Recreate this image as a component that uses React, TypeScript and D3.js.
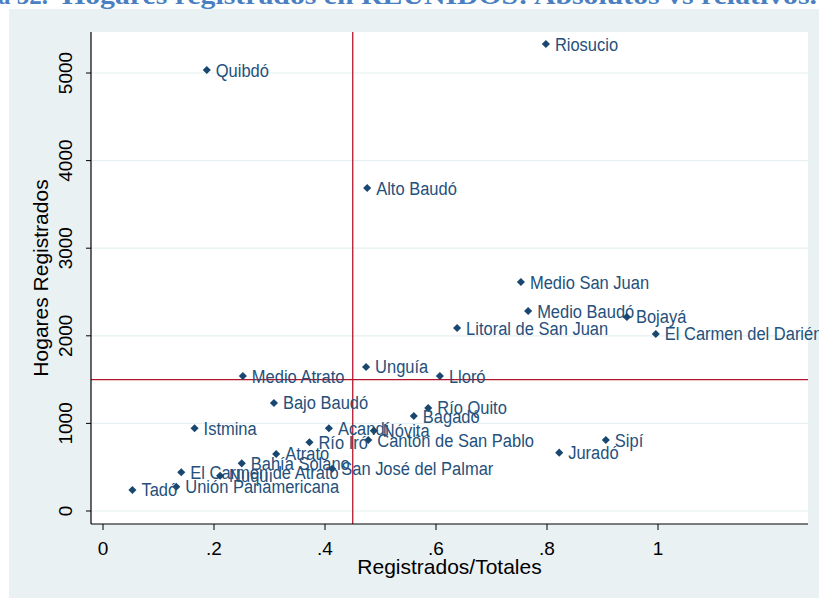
import React from 'react';
import * as d3 from 'd3';

// municipios del Chocó: ratio registrados/totales vs hogares registrados
const municipios = [
  'Riosucio', 'Quibdó', 'Alto Baudó', 'Medio San Juan', 'Medio Baudó', 'Bojayá',
  'Litoral de San Juan', 'El Carmen del Darién', 'Unguía', 'Medio Atrato', 'Lloró',
  'Bajo Baudó', 'Río Quito', 'Bagadó', 'Istmina', 'Acandí', 'Nóvita',
  'Cantón de San Pablo', 'Río Iró', 'Sipí', 'Juradó', 'Atrato', 'Bahía Solano',
  'San José del Palmar', 'El Carmen de Atrato', 'Nuquí', 'Unión Panamericana', 'Tadó',
];
const relativos = [
  0.798, 0.187, 0.476, 0.753, 0.766, 0.944, 0.638, 0.996, 0.474, 0.252, 0.607,
  0.308, 0.586, 0.560, 0.165, 0.407, 0.488, 0.478, 0.372, 0.906, 0.822, 0.312,
  0.250, 0.413, 0.141, 0.211, 0.132, 0.053,
];
const absolutos = [
  5331, 5034, 3687, 2614, 2283, 2215, 2089, 2021, 1644, 1541, 1541,
  1233, 1176, 1084, 944, 944, 917, 810, 785, 810, 666, 651,
  544, 483, 442, 403, 277, 240,
];
const xTicks = [0, 0.2, 0.4, 0.6, 0.8, 1];
const yTicks = [0, 1000, 2000, 3000, 4000, 5000];
const refX = 0.45;
const refY = 1500;

const W = 819, H = 598;
const plot = { left: 91, right: 808, top: 32, bottom: 524 };
const navy = '#1a476f';
const red = '#b5152b';
const sans = '"Liberation Sans", Arial, sans-serif';

export default function App() {
  const x = d3.scaleLinear().domain([0, 1]).range([103, 658]);
  const y = d3.scaleLinear().domain([0, 5000]).range([511, 73]);
  const fmtX = (d: number) => (d === 0 ? '0' : d === 1 ? '1' : d3.format('.1f')(d).replace(/^0/, ''));
  const diamond = d3.symbol().type(d3.symbolDiamond2).size(42)();

  return (
    <svg width={W} height={H} style={{ position: 'absolute', left: 0, top: 0 }}>
      <rect x={0} y={0} width={W} height={H} fill="#ffffff" />
      {/* title, cut at the top of the page */}
      <g fontFamily='"Liberation Serif", "DejaVu Serif", serif' fontWeight="bold" fontSize={25} fill="#4a7fc1">
        <text x={-2} y={4}>a 32.</text>
        <text x={62} y={4} textLength={755} lengthAdjust="spacingAndGlyphs">
          Hogares registrados en REUNIDOS: Absolutos vs relativos.
        </text>
      </g>
      <rect x={9} y={9} width={W - 9} height={H - 9} fill="#eaf1f3" />
      <rect x={plot.left} y={plot.top} width={plot.right - plot.left} height={plot.bottom - plot.top} fill="#ffffff" />

      {yTicks.map(t => (
        <line key={'g' + t} x1={plot.left} x2={plot.right} y1={y(t)} y2={y(t)} stroke="#e6eff1" strokeWidth={1.2} />
      ))}

      <line x1={x(refX)} x2={x(refX)} y1={plot.top} y2={plot.bottom} stroke={red} strokeWidth={1.3} />
      <line x1={plot.left} x2={plot.right} y1={y(refY)} y2={y(refY)} stroke={red} strokeWidth={1.3} />

      {/* axes */}
      <line x1={plot.left} x2={plot.left} y1={plot.top} y2={plot.bottom} stroke="#000" strokeWidth={1.2} />
      <line x1={plot.left} x2={plot.right} y1={plot.bottom} y2={plot.bottom} stroke="#000" strokeWidth={1.2} />
      {yTicks.map(t => (
        <g key={'y' + t}>
          <line x1={plot.left - 5} x2={plot.left} y1={y(t)} y2={y(t)} stroke="#000" />
          <text transform={`translate(72,${y(t)}) rotate(-90)`} textAnchor="middle" fontFamily={sans}
            fontSize={19} fill="#000">{t}</text>
        </g>
      ))}
      {xTicks.map(t => (
        <g key={'x' + t}>
          <line x1={x(t)} x2={x(t)} y1={plot.bottom} y2={plot.bottom + 6} stroke="#000" />
          <text x={x(t)} y={555} textAnchor="middle" fontFamily={sans} fontSize={19} fill="#000">{fmtX(t)}</text>
        </g>
      ))}
      <text x={(plot.left + plot.right) / 2} y={574} textAnchor="middle" fontFamily={sans} fontSize={21}
        fill="#000">Registrados/Totales</text>
      <text transform={`translate(48,${(plot.top + plot.bottom) / 2}) rotate(-90)`} textAnchor="middle"
        fontFamily={sans} fontSize={21} fill="#000">Hogares Registrados</text>

      {/* points + labels */}
      {municipios.map((m, i) => (
        <g key={m} transform={`translate(${x(relativos[i])},${y(absolutos[i])})`}>
          <path d={diamond} fill={navy} />
          <text transform="translate(9,6.5) scale(1,1.1)" fontFamily={sans} fontSize={16.5}
            fill="#24507b">{m}</text>
        </g>
      ))}
    </svg>
  );
}
